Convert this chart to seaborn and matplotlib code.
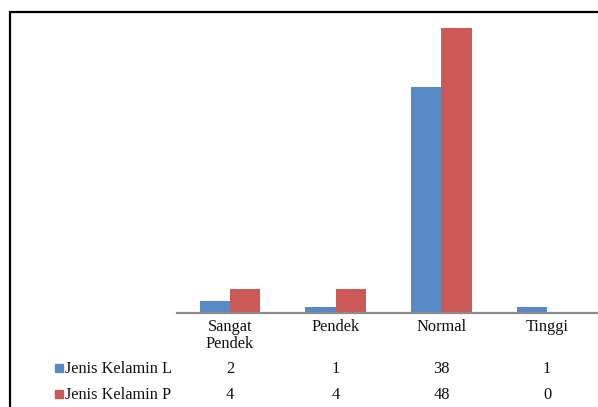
import matplotlib
matplotlib.use("Agg")
import matplotlib.pyplot as plt
import matplotlib.transforms as mtransforms
from matplotlib.patches import Rectangle
from matplotlib.lines import Line2D
import seaborn as sns
import pandas as pd

categories = ["Sangat\nPendek", "Pendek", "Normal", "Tinggi"]
series_names = ["Jenis Kelamin L", "Jenis Kelamin P"]
values_l = [2, 1, 38, 1]
values_p = [4, 4, 48, 0]
colors = ["#5889C7", "#CB5A56"]

df = pd.DataFrame({
    "kategori": categories * 2,
    "jenis": [series_names[0]] * 4 + [series_names[1]] * 4,
    "jumlah": values_l + values_p,
})

sns.set_theme(style="white")
plt.rcParams["font.family"] = ["Liberation Serif", "DejaVu Serif"]

W, H = 598, 407
fig = plt.figure(figsize=(W / 100, H / 100), dpi=100)

def fx(px):
    return px / W

def fy(py):
    return 1 - py / H

ax = fig.add_axes([fx(177), fy(313), fx(600) - fx(177), fy(13) - fy(313)])
sns.barplot(data=df, x="kategori", y="jumlah", hue="jenis", order=categories,
            hue_order=series_names, palette=colors, width=0.57, saturation=1,
            linewidth=0, legend=False, ax=ax)
ax.set_ylim(0, 50.5)
ax.set_xlim(-0.5, 3.5)
for s in ["top", "right", "left"]:
    ax.spines[s].set_visible(False)
ax.spines["bottom"].set_color("#8C8C8C")
ax.spines["bottom"].set_linewidth(1.6)
ax.set_xlabel("")
ax.set_ylabel("")
ax.set_xticks([])
ax.set_yticks([])

# category labels and data table under the axis
blend = mtransforms.blended_transform_factory(ax.transData, fig.transFigure)
fs = 11.8
for i, cat in enumerate(categories):
    fig.text(i, fy(319), cat, transform=blend, ha="center", va="top",
             fontsize=fs, linespacing=1.05, color="#111111")
    fig.text(i, fy(369), str(values_l[i]), transform=blend, ha="center",
             va="center", fontsize=fs, color="#111111")
    fig.text(i, fy(395), str(values_p[i]), transform=blend, ha="center",
             va="center", fontsize=fs, color="#111111")

for row_y, name, col in [(368, series_names[0], colors[0]),
                         (394, series_names[1], colors[1])]:
    fig.patches.append(Rectangle((fx(55), fy(row_y + 4)), fx(8), fy(row_y - 4) - fy(row_y + 4),
                                 transform=fig.transFigure, color=col))
    fig.text(fx(65), fy(row_y + 1), name, ha="left", va="center", fontsize=fs,
             color="#111111")

# frame lines along the top and left edge
fig.lines.append(Line2D([fx(9.5), 1], [fy(11.5), fy(11.5)], transform=fig.transFigure,
                        color="black", linewidth=1.6))
fig.lines.append(Line2D([fx(9.5), fx(9.5)], [0, fy(11.5)], transform=fig.transFigure,
                        color="black", linewidth=1.6))

fig.savefig("out.png", dpi=100, facecolor="white")
